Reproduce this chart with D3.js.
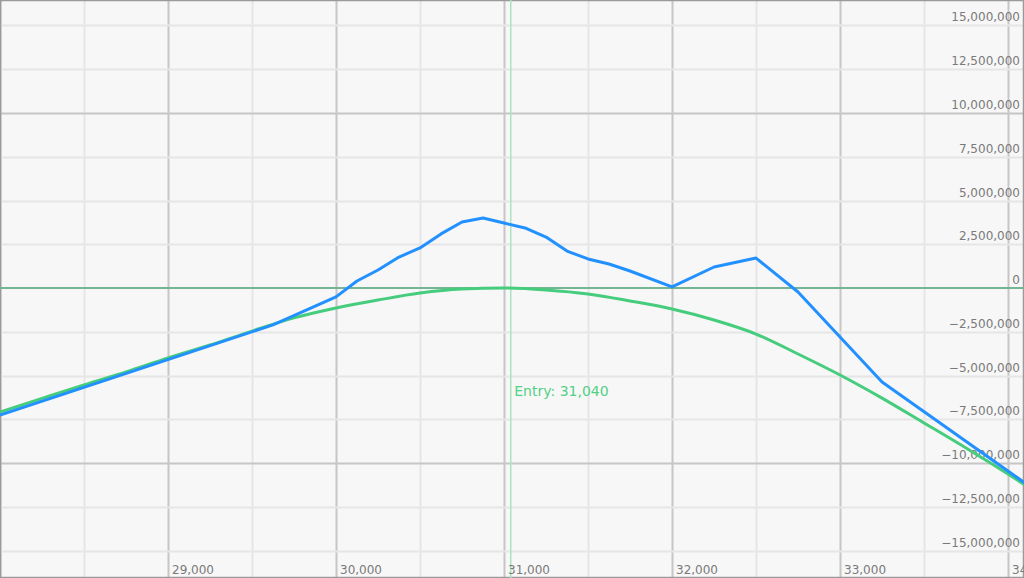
<!DOCTYPE html>
<html>
<head>
<meta charset="utf-8">
<script src="https://cdn.jsdelivr.net/npm/d3@7"></script>
<style>
html,body{margin:0;padding:0;background:#f7f7f7;}
svg{display:block;}
</style>
</head>
<body>
<script>
// Blue series (piecewise)
const bluePrices = [28000, 29625, 30000, 30125, 30250, 30375, 30500, 30625, 30750, 30875, 31000, 31125, 31250, 31375, 31500, 31625, 31750, 32000, 32250, 32500, 32750, 33250, 34100];
const blueValues = [-7.26e6, -2.11e6, -0.51e6, 0.40e6, 1.03e6, 1.77e6, 2.29e6, 3.09e6, 3.77e6, 4.0e6, 3.71e6, 3.43e6, 2.91e6, 2.11e6, 1.66e6, 1.37e6, 0.97e6, 0.06e6, 1.2e6, 1.71e6, -0.23e6, -5.37e6, -11.14e6];
// Green series (smooth curve)
const greenPrices = [28000, 28250, 28500, 28750, 29000, 29250, 29500, 29750, 30000, 30250, 30500, 30750, 31000, 31250, 31500, 31750, 32000, 32250, 32500, 32750, 33000, 33250, 33500, 33750, 34000, 34100];
const greenValues = [-7.09e6, -6.31e6, -5.54e6, -4.80e6, -4.0e6, -3.26e6, -2.46e6, -1.71e6, -1.14e6, -0.69e6, -0.29e6, -0.06e6, 0, -0.11e6, -0.34e6, -0.74e6, -1.2e6, -1.83e6, -2.63e6, -3.77e6, -4.97e6, -6.29e6, -7.71e6, -9.14e6, -10.63e6, -11.26e6];
const entryPrice = 31040;
const entryLabel = "Entry: 31,040";
const xTickValues = [28000, 28500, 29000, 29500, 30000, 30500, 31000, 31500, 32000, 32500, 33000, 33500, 34000];
const xLabelTicks = [29000, 30000, 31000, 32000, 33000, 34000];
const yTickValues = [-15e6, -12.5e6, -10e6, -7.5e6, -5e6, -2.5e6, 0, 2.5e6, 5e6, 7.5e6, 10e6, 12.5e6, 15e6];

const W = 1024, H = 578;
const svg = d3.select("body").append("svg").attr("width", W).attr("height", H);
svg.append("rect").attr("width", W).attr("height", H).attr("fill", "#f7f7f7");

const x = d3.scaleLinear().domain([28000, 34095]).range([0, W]);
const y = d3.scaleLinear().domain([-16.571e6, 16.457e6]).range([H, 0]);
const fmt = d3.format(",");

// vertical grid
svg.append("g").selectAll("line").data(xTickValues).join("line")
  .attr("x1", d => Math.round(x(d)) + 0.5).attr("x2", d => Math.round(x(d)) + 0.5)
  .attr("y1", 0).attr("y2", H)
  .attr("stroke", d => d % 1000 === 0 ? "#c6c6c6" : "#e6e6e6")
  .attr("stroke-width", 2);

// horizontal grid
svg.append("g").selectAll("line").data(yTickValues.filter(d => d !== 0)).join("line")
  .attr("x1", 0).attr("x2", W)
  .attr("y1", d => Math.round(y(d)) + 0.5).attr("y2", d => Math.round(y(d)) + 0.5)
  .attr("stroke", d => d % 10e6 === 0 ? "#c6c6c6" : "#e6e6e6")
  .attr("stroke-width", 2);

// border
svg.append("rect").attr("x", 0.5).attr("y", 0.5).attr("width", W - 1).attr("height", H - 1)
  .attr("fill", "none").attr("stroke", "#9a9a9a").attr("stroke-width", 1.5);

// zero line
svg.append("line").attr("x1", 0).attr("x2", W)
  .attr("y1", y(0)).attr("y2", y(0))
  .attr("stroke", "#76b494").attr("stroke-width", 2);

// entry line
svg.append("line").attr("x1", x(entryPrice)).attr("x2", x(entryPrice))
  .attr("y1", 0).attr("y2", H)
  .attr("stroke", "#a8e4bf").attr("stroke-width", 1.5);

// y labels
svg.append("g").selectAll("text").data(yTickValues).join("text")
  .attr("x", 1020).attr("y", d => y(d) - 4)
  .attr("text-anchor", "end")
  .attr("font-family", "DejaVu Sans, Verdana, sans-serif")
  .attr("font-size", 12)
  .attr("fill", "#7a7a7a")
  .text(d => fmt(d));

// x labels
svg.append("g").selectAll("text").data(xLabelTicks).join("text")
  .attr("x", d => x(d) + 4).attr("y", 574)
  .attr("font-family", "DejaVu Sans, Verdana, sans-serif")
  .attr("font-size", 12)
  .attr("fill", "#7a7a7a")
  .text(d => fmt(d));

// green line
const greenData = greenPrices.map((p, i) => [p, greenValues[i]]);
svg.append("path").datum(greenData)
  .attr("fill", "none").attr("stroke", "#45cc7c").attr("stroke-width", 3)
  .attr("stroke-linejoin", "round")
  .attr("d", d3.line().x(d => x(d[0])).y(d => y(d[1])).curve(d3.curveMonotoneX));

// blue line
const blueData = bluePrices.map((p, i) => [p, blueValues[i]]);
svg.append("path").datum(blueData)
  .attr("fill", "none").attr("stroke", "#2290ff").attr("stroke-width", 3)
  .attr("stroke-linejoin", "round")
  .attr("d", d3.line().x(d => x(d[0])).y(d => y(d[1])));

// entry label
svg.append("text").attr("x", x(entryPrice) + 3.5).attr("y", 396)
  .attr("font-family", "DejaVu Sans, Verdana, sans-serif")
  .attr("font-size", 14)
  .attr("fill", "#52d085")
  .text(entryLabel);
</script>
</body>
</html>
